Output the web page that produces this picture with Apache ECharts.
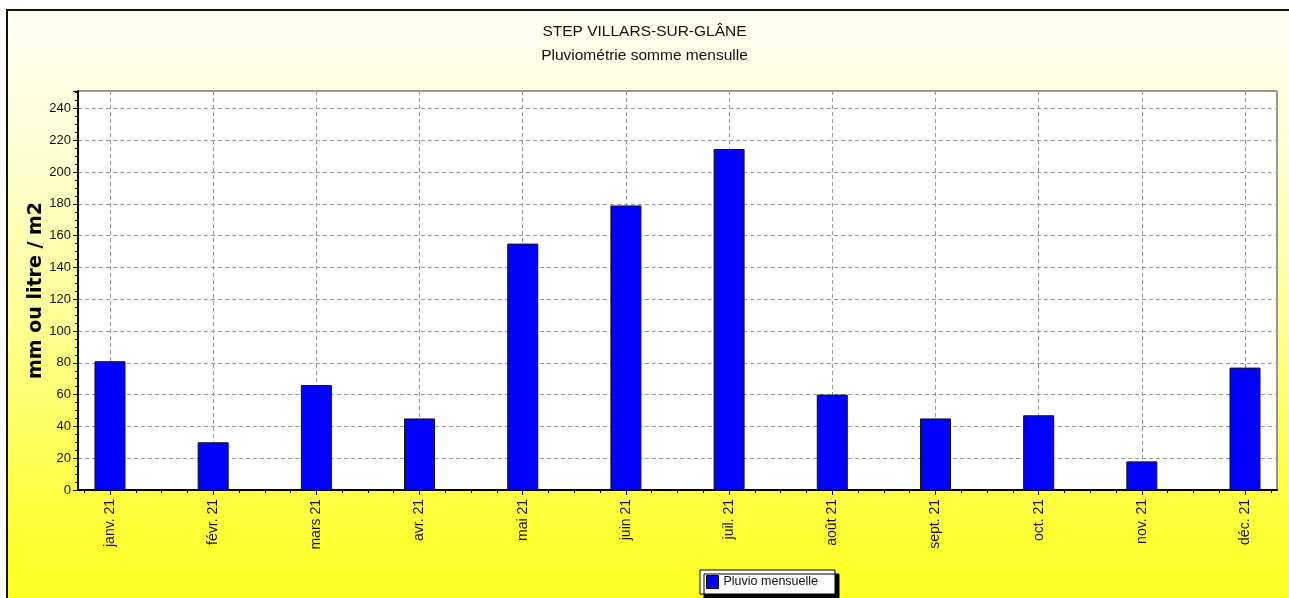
<!DOCTYPE html>
<html>
<head>
<meta charset="utf-8">
<script src="https://cdn.jsdelivr.net/npm/echarts@6/dist/echarts.min.js"></script>
<style>
html,body{margin:0;padding:0;background:#fff;}
#chart{width:1289px;height:598px;}
</style>
</head>
<body>
<div id="chart"></div>
<script>
const months = ['janv. 21','févr. 21','mars 21','avr. 21','mai 21','juin 21','juil. 21','août 21','sept. 21','oct. 21','nov. 21','déc. 21'];
const pluvio = [81, 30, 66, 45, 155, 179, 214.5, 60, 45, 47, 18, 77];
const yTicks = [0, 20, 40, 60, 80, 100, 120, 140, 160, 180, 200, 220, 240];
const seriesName = 'Pluvio mensuelle';
const titleText = 'STEP VILLARS-SUR-GLÂNE';
const subtitleText = 'Pluviométrie somme mensulle';
const yName = 'mm ou litre / m2';

const idx = months.map((m, i) => i);
const quarter = [];
for (let i = -1; i < months.length; i++) {
  [0.25, 0.5, 0.75].forEach(f => { const v = i + f; if (v > -0.31 && v < 11.31) quarter.push(v); });
}

const chart = echarts.init(document.getElementById('chart'), null, {renderer: 'canvas'});
chart.setOption({
  animation: false,
  backgroundColor: '#ffffff',
  graphic: [{
    type: 'rect', z: -10, silent: true,
    shape: {x: 7, y: 10, width: 1300, height: 620},
    style: {
      fill: new echarts.graphic.LinearGradient(0, 0, 0, 1, [
        {offset: 0, color: '#FFFFF2'},
        {offset: 0.2, color: '#FFFFDA'},
        {offset: 0.5, color: '#FFFF96'},
        {offset: 0.8, color: '#FFFF40'},
        {offset: 1, color: '#FFFF14'}
      ]),
      stroke: '#111', lineWidth: 2
    }
  }],
  title: {
    text: titleText, subtext: subtitleText,
    left: 'center', top: 24, padding: 0, itemGap: 8,
    textStyle: {fontFamily: 'Liberation Sans, Arial', fontSize: 15.5, fontWeight: 'normal', color: '#111'},
    subtextStyle: {fontFamily: 'Liberation Sans, Arial', fontSize: 15.5, color: '#111'}
  },
  legend: {
    left: 700, top: 570,
    padding: [5, 17, 5, 6],
    backgroundColor: '#ffffff', borderColor: '#000', borderWidth: 1,
    shadowColor: '#000', shadowBlur: 0, shadowOffsetX: 4, shadowOffsetY: 4,
    itemWidth: 12, itemHeight: 13, itemGap: 5,
    icon: 'rect',
    itemStyle: {borderColor: '#000', borderWidth: 1},
    textStyle: {fontFamily: 'Liberation Sans, Arial', fontSize: 12.5, color: '#111'},
    data: [seriesName]
  },
  grid: {
    left: 78, right: 12, top: 91, bottom: 108,
    show: true, backgroundColor: '#ffffff', borderColor: '#333', borderWidth: 1
  },
  xAxis: [{
    type: 'value', min: -0.31, max: 11.31,
    axisLine: {show: true, onZero: false, lineStyle: {color: '#000', width: 2}},
    axisTick: {show: true, customValues: idx, length: 5, lineStyle: {color: '#000'}},
    axisLabel: {
      customValues: idx, rotate: 90, margin: 9,
      fontFamily: 'Liberation Sans, Arial', fontSize: 14, color: '#111',
      formatter: v => months[Math.round(v)]
    },
    splitLine: {show: true, lineStyle: {color: '#999', type: [4, 3], width: 1}}
  }, {
    type: 'value', min: -0.31, max: 11.31, position: 'bottom',
    axisLine: {show: false, onZero: false},
    axisTick: {show: true, customValues: quarter, length: 3, lineStyle: {color: '#000'}},
    axisLabel: {show: false},
    splitLine: {show: false}
  }],
  yAxis: {
    type: 'value', min: 0, max: 251, interval: 20,
    name: yName, nameLocation: 'middle', nameGap: 32, nameRotate: 90,
    nameMoveOverlap: false,
    nameTextStyle: {fontFamily: 'DejaVu Sans', fontWeight: 'bold', fontSize: 19, color: '#000'},
    axisLine: {show: true, onZero: false, lineStyle: {color: '#000', width: 2}},
    axisTick: {show: true, length: 5, lineStyle: {color: '#000'}},
    minorTick: {show: true, splitNumber: 4, length: 3, lineStyle: {color: '#000'}},
    axisLabel: {
      margin: 7, showMaxLabel: false,
      fontFamily: 'Liberation Sans, Arial', fontSize: 13, color: '#111',
      formatter: v => (yTicks.indexOf(v) >= 0 ? String(v) : '')
    },
    splitLine: {show: true, lineStyle: {color: '#999', type: [4, 3], width: 1}}
  },
  series: [{
    name: seriesName, type: 'bar', xAxisIndex: 0,
    barWidth: 31,
    itemStyle: {color: '#0000FF', borderColor: '#111', borderWidth: 1},
    data: pluvio.map((v, i) => [i, v])
  }]
});
</script>
</body>
</html>
